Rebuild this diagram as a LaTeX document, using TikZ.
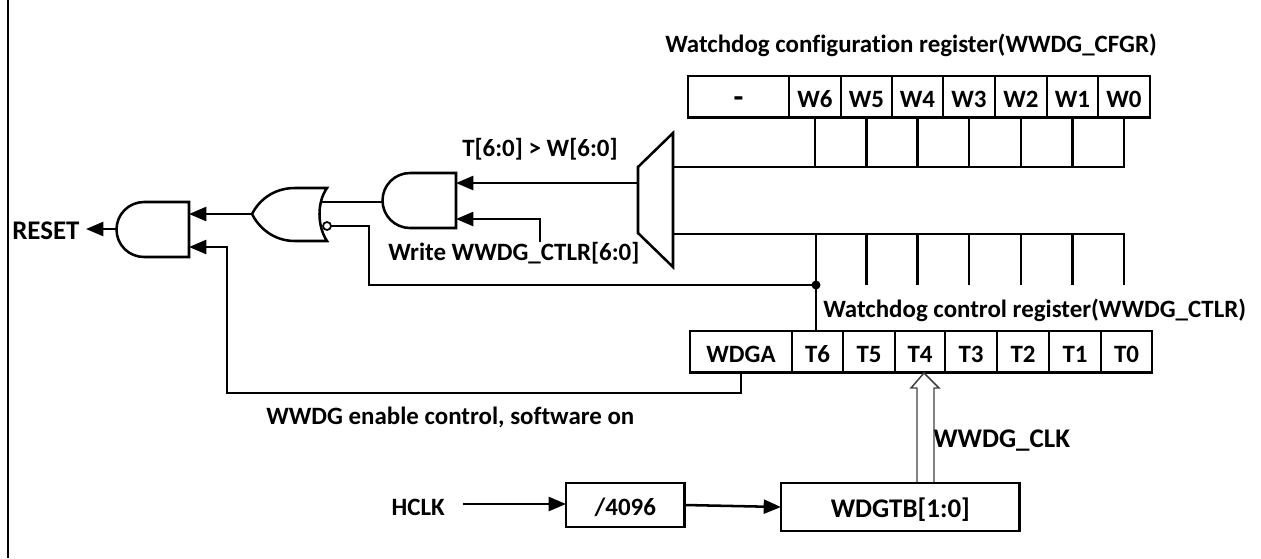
\documentclass[tikz,border=0pt]{standalone}
\usepackage{fontspec}
\setmainfont[Ligatures=CommonOff]{Carlito}
\usetikzlibrary{arrows.meta, positioning, calc}

\tikzset{
    wire/.style={line width=1.9pt},
    sig/.style={wire, -{Triangle[length=13pt, width=10.5pt]}},
    gate/.style={line width=1.9pt, line join=miter},
    cell/.style={draw, line width=1.9pt, inner sep=0pt, outer sep=0pt, anchor=north west, text height=15.5pt, text depth=0pt},
    lbl/.style={inner sep=0pt},
    biglbl/.style={font=\fontsize{20.2}{24}\selectfont\bfseries},
}

\begin{document}
\begin{tikzpicture}[x=0.75pt, y=-0.75pt, font=\fontsize{18.7}{22}\selectfont\bfseries]
    \useasboundingbox (0,0) rectangle (1261,558);

    % Left border
    \draw[line width=1.9pt] (8,0) -- (8,558);

    % Configuration register
    \node[lbl, anchor=west] (cfgtitle) at (665,45) {Watchdog configuration register(WWDG\_CFGR)};
    \foreach \name/\txt/\xa/\xb in {Wx/{\fontsize{24}{24}\selectfont -}/688/789, W6/W6/789/841, W5/W5/841/892, W4/W4/892/943,
        W3/W3/943/995, W2/W2/995/1047, W1/W1/1047/1098, W0/W0/1098/1150}
        \node[cell, minimum height=31pt, minimum width={(\xb-\xa)*0.75pt}] (\name) at (\xa,76) {\txt};

    % Control register
    \node[lbl, anchor=west] (ctltitle) at (823,310) {Watchdog control register(WWDG\_CTLR)};
    \foreach \name/\txt/\xa/\xb in {WDGA/WDGA/690/792, T6/T6/792/843, T5/T5/843/895, T4/T4/895/945,
        T3/T3/945/997, T2/T2/997/1049, T1/T1/1049/1101, T0/T0/1101/1152}
        \node[cell, minimum height=31pt, minimum width={(\xb-\xa)*0.75pt}] (\name) at (\xa,331) {\txt};

    % Comparator
    \coordinate (muxtl) at (638,167);
    \coordinate (muxtr) at (673,133);
    \coordinate (muxbr) at (673,267);
    \coordinate (muxbl) at (638,233);
    \draw[gate] (muxtl) -- (muxtr) -- (muxbr) -- (muxbl) -- cycle;
    \coordinate (cfgbus) at (673,167);
    \coordinate (ctlbus) at (673,234);
    \coordinate (muxout) at (638,183);

    % Buses
    \draw[wire] (cfgbus) -- (W0.south |- cfgbus) -- (W0.south);
    \foreach \name in {W6,W5,W4,W3,W2,W1}
        \draw[wire] (\name.south) -- (\name.south |- cfgbus);
    \coordinate (dot) at (816,285);
    \draw[wire] (ctlbus) -- (W0.south |- ctlbus) -- (W0.south |- dot);
    \foreach \name in {W5,W4,W3,W2,W1}
        \draw[wire] (\name.south |- ctlbus) -- (\name.south |- dot);
    \draw[wire] (dot |- ctlbus) -- (dot |- T6.north);
    \fill (dot) circle (4.5);

    % AND gate, compare
    \coordinate (andbr) at (456,228);
    \draw[gate] (456,173) -- (410,173) arc[start angle=-90, end angle=-270, radius=27.5] -- (andbr) -- cycle;
    \coordinate (andbin) at (456,183);
    \coordinate (andbwr) at (456,219);
    \coordinate (andbout) at (383,202);
    \draw[sig] (muxout) -- (andbin);
    \coordinate (wrtop) at (540,242);
    \draw[sig] (wrtop) |- (andbwr);
    \node[lbl, anchor=west] (tgtw) at (462,149) {T[6:0] > W[6:0]};
    \node[lbl, anchor=west] (wrlbl) at (388,253) {Write WWDG\_CTLR[6:0]};

    % NOR gate
    \draw[gate] (327,188) -- (295,188) .. controls (272,188) and (258,202) .. (252,214)
        .. controls (258,226) and (272,241) .. (295,241) -- (327,241)
        .. controls (317,226) and (317,202) .. (327,188) -- cycle;
    \coordinate (orout) at (252,214);
    \coordinate (orin) at (321,202);
    \draw[wire] (andbout) -- (orin);
    \draw[line width=1.3pt, fill=white] (327,226) circle (4) coordinate (bub);
    \coordinate (bubr) at (331,226);
    \draw[wire] (bubr) -- (369,226) |- (dot);

    % AND gate, output
    \draw[gate] (189,202) -- (144,202) arc[start angle=-90, end angle=-270, radius=27.5] -- (189,257) -- cycle;
    \coordinate (andain) at (189,214);
    \coordinate (andaen) at (189,247);
    \coordinate (andaout) at (117,229);
    \draw[sig] (orout) -- (andain);
    \draw[sig] (WDGA.south) |- (227,393) |- (andaen);
    \coordinate (rsttip) at (86,229);
    \draw[sig] (andaout) -- (rsttip);
    \node[lbl, biglbl, anchor=west] (rstlbl) at (12,231) {RESET};
    \node[lbl, anchor=west] (enlbl) at (266,417) {WWDG enable control, software on};

    % Clock chain
    \node[lbl, anchor=east] (hclk) at (445,507) {HCLK};
    \node[cell, minimum height=33pt, minimum width=89pt] (div) at (566,483) {/4096};
    \node[cell, biglbl, minimum height=36pt, minimum width=179pt] (wdgtb) at (781,483) {WDGTB[1:0]};
    \coordinate (hclkr) at (463,504);
    \draw[sig] (hclkr) -- (div.west |- hclkr);
    \draw[sig] (div.east) -- (wdgtb.west);
    \node[lbl, biglbl, anchor=west] (clklbl) at (933,441) {WWDG\_CLK};

    % Hollow arrow
    \coordinate (clktip) at (924,373);
    \draw[line width=1.1pt, draw=black!75] (917,482) -- (917,388) -- (911,388) -- (clktip)
        -- (939,388) -- (934,388) -- (934,482);
\end{tikzpicture}
\end{document}
